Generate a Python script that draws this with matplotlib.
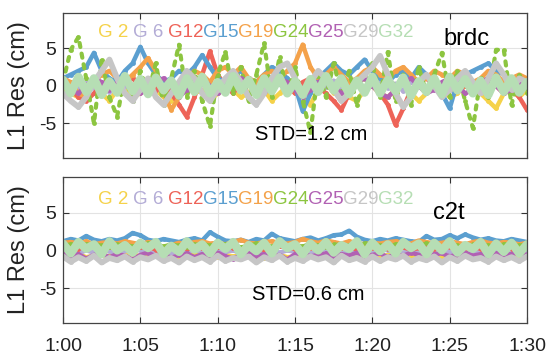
import numpy as np
import matplotlib
matplotlib.use("Agg")
import matplotlib.pyplot as plt

plt.rcParams['font.family'] = ['Liberation Sans', 'DejaVu Sans']

sats = ['G 2', 'G 6', 'G12', 'G15', 'G19', 'G24', 'G25', 'G29', 'G32']
colors = ['#f5d24a', '#b3acd6', '#ee6358', '#5b9fd0', '#f4a24a', '#8cc540', '#b161b3', '#c6c6c6', '#b6deb4']
xtick_labels = ['1:00', '1:05', '1:10', '1:15', '1:20', '1:25', '1:30']
minutes_start, minutes_end = 0, 30

# ---- brdc residuals (cm), sampled every 30 s ----
brdc_G02 = [-0.5,-1.0,-1.5,-0.5,0.5,-1.0,-2.0,-0.5,0.0,-1.5,-1.0,0.5,-0.5,-1.5,-2.0,-0.5,0.5,-1.0,-0.5,-2.0,-1.0,0.0,-0.5,-1.5,-1.0,0.5,-0.5,-2.0,-1.0,0.0,-0.5,-1.5,-2.5,-0.5,0.5,-1.0,-0.5,-1.5,-2.0,-0.5,0.0,-1.0,-1.5,-0.5,0.5,-1.0,-2.0,-1.0,0.0,-0.5,-1.5,-1.0,0.0,-0.5,-1.0,-2.0,-3.0,-1.0,-0.5,-1.5,-0.5]
brdc_G06 = [0.0,0.5,-0.5,0.8,-0.3,0.2,-0.8,0.5,0.0,-0.5,1.0,0.3,-0.5,0.0,0.8,-0.3,0.5,-0.8,0.2,0.6,-0.4,0.0,0.9,-0.6,0.3,0.0,-0.7,0.5,0.2,-0.3,0.8,0.0,-0.5,0.4,-0.2,0.7,-0.6,0.1,0.5,-0.4,0.0,0.8,-0.3,0.3,-0.7,0.5,0.0,-0.4,0.6,0.2,-0.5,0.0,0.7,-0.3,0.4,-0.6,0.1,0.5,-0.2,0.3,0.0]
brdc_G12 = [0.5,-0.5,-1.5,-2.0,-1.0,0.0,0.5,-0.5,0.5,1.0,0.0,-1.0,-0.5,0.5,-1.0,-2.5,-4.1,-1.5,1.5,4.6,1.5,0.0,-1.0,0.5,1.0,0.0,-0.5,0.5,1.0,0.0,-1.0,0.5,1.0,0.0,-1.0,-2.0,-3.2,-1.0,0.5,1.0,0.0,-1.0,-2.5,-5.2,-3.0,-0.5,0.5,1.0,0.0,-1.0,0.5,1.0,0.0,-0.5,0.5,1.0,0.0,-1.0,-0.5,-1.5,-3.2]
brdc_G15 = [1.0,1.5,2.0,2.5,4.4,2.0,1.0,0.5,2.0,3.0,5.2,3.0,1.5,0.5,1.0,2.0,1.5,2.5,4.1,2.5,1.0,0.5,1.5,2.0,1.0,0.5,1.5,2.5,2.0,1.0,0.0,-3.4,-1.0,1.0,2.0,3.0,2.0,1.5,2.5,3.5,2.0,1.0,0.5,1.5,2.0,1.0,2.5,1.5,0.5,-1.0,-3.0,0.5,1.5,2.0,2.5,3.0,2.0,1.5,1.0,0.5,1.0]
brdc_G19 = [1.0,0.5,-1.0,-1.5,0.5,1.5,2.0,1.0,0.5,1.5,2.5,3.7,2.0,-1.0,-3.2,-1.5,1.0,2.0,1.5,0.5,2.0,2.5,1.5,2.5,1.0,0.5,1.5,2.0,1.0,2.0,3.0,5.5,2.5,1.0,1.5,2.5,1.5,0.5,1.0,2.0,2.5,1.5,1.0,2.0,2.5,1.5,0.5,1.0,2.0,1.5,1.0,2.0,1.5,0.5,1.0,2.0,1.5,0.5,1.0,1.5,1.0]
brdc_G24 = [0.5,4.8,6.5,1.0,-5.0,3.5,-1.5,-4.1,1.5,-2.0,2.0,-1.0,3.0,-2.5,1.0,5.5,-1.5,2.0,-2.0,-5.4,1.5,4.5,-1.0,2.5,-2.0,1.5,5.7,-1.5,3.8,-1.0,2.5,-2.0,-6.2,2.0,-1.5,3.0,-1.0,2.0,-2.5,1.0,3.0,-1.5,4.5,-2.0,1.5,-2.5,2.5,-1.0,1.5,4.4,-1.5,2.0,-2.0,-5.6,1.0,-1.5,4.8,4.8,-2.5,1.5,-1.0]
brdc_G25 = [0.5,-0.5,-1.0,0.0,1.0,0.5,-0.5,0.5,1.0,0.0,-1.0,-0.5,0.5,1.0,0.0,-1.5,-0.5,0.5,1.0,0.0,-1.0,-0.5,0.5,1.0,0.5,-0.5,-1.0,0.0,1.0,0.5,-0.5,-1.5,-0.5,0.5,1.0,0.0,-1.0,-0.5,0.5,1.0,0.0,-1.0,-1.5,-0.5,0.5,1.0,0.0,-1.0,-0.5,0.5,1.0,0.0,-1.0,-0.5,0.5,1.0,0.0,-1.0,-0.5,0.5,0.0]
brdc_G29 = [-1.0,-2.0,-2.8,-1.5,0.5,2.0,3.5,1.0,-1.0,-2.0,-0.5,1.0,-1.5,-2.5,-1.0,0.5,2.0,1.0,-1.0,-2.0,-0.5,1.0,2.0,0.5,-1.5,-2.5,-1.0,1.0,2.5,3.0,1.0,-1.0,0.5,2.0,1.0,-0.5,-2.0,-1.0,0.5,1.5,2.5,4.0,1.5,-1.0,-2.8,-1.5,0.5,1.5,0.0,-1.5,-0.5,1.0,2.0,0.5,-1.0,1.0,3.0,1.5,-0.5,1.0,0.5]
brdc_G32 = [0.8,-1.0,1.2,-0.8,1.0,-1.2,0.6,-0.9,1.3,-0.7,0.9,-1.1,1.1,-0.6,0.7,-1.3,1.0,-0.8,1.2,-1.0,0.5,-0.9,1.3,-0.6,0.8,-1.2,1.0,-0.7,1.1,-1.0,0.6,-1.2,0.9,-0.8,1.3,-0.6,1.0,-1.1,0.7,-0.9,1.2,-1.0,0.8,-0.7,1.1,-1.3,0.6,-0.8,1.0,-1.1,1.2,-0.6,0.9,-1.0,0.7,-1.2,1.1,-0.8,1.0,-0.9,0.5]

# ---- c2t residuals (cm), sampled every 30 s ----
c2t_G02 = [-0.6,-0.8,-0.5,-0.9,-0.7,-0.6,-0.8,-1.0,-0.7,-0.5,-0.8,-0.9,-0.6,-0.7,-0.8,-1.0,-0.6,-0.5,-0.8,-0.7,-0.9,-0.6,-0.8,-0.7,-0.5,-0.8,-1.0,-0.7,-0.6,-0.9,-0.8,-0.6,-0.7,-0.9,-0.5,-0.8,-0.7,-1.0,-0.6,-0.8,-0.7,-0.9,-0.6,-0.5,-0.8,-0.7,-0.9,-0.6,-0.8,-1.0,-0.7,-0.6,-0.8,-0.5,-0.7,-0.9,-0.6,-0.8,-0.7,-0.6,-0.8]
c2t_G06 = [-0.2,0.1,-0.4,0.0,-0.3,0.2,-0.1,-0.5,0.0,-0.2,0.1,-0.3,-0.1,0.2,-0.4,0.0,-0.2,0.1,-0.3,-0.1,0.2,-0.2,0.0,-0.4,0.1,-0.2,-0.1,0.2,-0.3,0.0,-0.2,0.1,-0.4,-0.1,0.2,-0.2,0.0,-0.3,0.1,-0.1,-0.4,0.2,0.0,-0.2,-0.3,0.1,-0.1,0.0,-0.3,0.2,-0.2,-0.1,0.1,-0.4,0.0,-0.2,0.1,-0.3,-0.1,0.0,-0.2]
c2t_G12 = [0.3,0.5,0.2,0.6,0.4,0.1,0.5,0.3,0.6,0.2,0.4,0.5,0.1,0.3,0.6,0.4,0.2,0.5,0.3,0.1,0.4,0.6,0.3,0.2,0.5,0.4,0.1,0.3,0.6,0.4,0.2,0.5,0.3,0.4,0.6,0.2,0.3,0.5,0.1,0.4,0.3,0.6,0.2,0.5,0.4,0.1,0.3,0.5,0.2,0.6,0.4,0.3,0.1,0.5,0.2,0.4,0.6,0.3,0.2,0.5,0.4]
c2t_G15 = [1.2,1.5,1.3,1.9,1.4,1.2,1.5,1.3,1.6,2.3,2.0,1.4,1.2,1.5,1.3,1.1,1.4,1.6,1.3,2.4,1.8,1.3,1.2,1.4,1.1,1.5,1.3,2.2,1.6,1.4,1.2,1.5,1.7,1.3,1.6,2.0,2.1,2.6,1.8,1.4,1.2,1.5,1.3,1.6,1.4,1.2,1.1,1.9,1.4,1.5,2.0,1.6,2.1,1.7,1.4,1.6,1.3,1.2,1.5,1.3,1.1]
c2t_G19 = [1.0,1.1,0.9,1.2,0.8,1.0,1.1,0.9,1.2,1.0,0.8,1.1,0.9,0.4,0.7,1.0,0.8,1.1,1.2,0.9,1.0,0.8,1.1,1.4,1.0,0.9,1.1,1.2,1.0,0.9,1.1,1.5,1.2,1.0,1.3,1.1,0.9,1.2,1.0,0.8,1.0,0.9,1.1,1.2,1.0,0.9,1.3,1.1,0.9,1.0,1.2,1.0,0.8,1.1,1.3,1.0,0.9,1.1,1.0,0.8,1.0]
c2t_G24 = [0.7,0.9,0.6,0.8,1.0,0.7,0.5,0.8,0.9,0.6,0.7,1.0,0.8,0.6,0.9,0.7,0.5,0.8,1.0,0.7,0.6,0.9,0.8,0.5,0.7,1.0,0.8,0.6,0.9,0.7,0.8,0.6,1.0,0.7,0.5,0.8,0.9,0.7,0.6,1.0,0.8,0.7,0.5,0.9,0.8,0.6,0.7,1.0,0.8,0.6,0.9,0.7,0.5,0.8,1.0,0.7,0.6,0.9,0.8,0.7,0.9]
c2t_G25 = [-0.3,-0.8,-0.5,-1.1,-0.6,-0.4,-0.9,-0.5,-0.7,-1.2,-0.6,-0.3,-0.8,-0.5,-1.0,-0.6,-0.4,-0.9,-0.5,-0.7,-0.3,-0.8,-1.1,-0.6,-0.4,-0.7,-0.5,-0.9,-0.6,-1.2,-0.5,-0.3,-0.8,-0.6,-0.4,-1.0,-0.5,-0.7,-0.3,-0.8,-0.6,-0.4,-0.9,-0.5,-0.7,-0.3,-0.6,-1.0,-0.5,-0.4,-0.8,-0.6,-0.3,-0.7,-0.5,-0.9,-0.4,-0.6,-0.5,-0.3,-0.6]
c2t_G29 = [-0.8,-1.5,-0.9,-1.4,-0.7,-1.6,-1.0,-1.3,-0.8,-1.5,-0.9,-1.2,-0.7,-1.4,-1.0,-1.6,-0.8,-1.3,-0.9,-1.5,-0.7,-1.4,-1.0,-1.2,-0.8,-1.6,-0.9,-1.3,-0.7,-1.5,-1.0,-1.4,-0.8,-1.2,-0.9,-1.6,-0.7,-1.3,-1.0,-1.5,-0.8,-1.4,-0.9,-1.2,-0.7,-1.5,-1.0,-1.3,-0.8,-1.6,-0.9,-1.4,-0.7,-1.2,-1.0,-1.5,-0.8,-1.3,-0.9,-1.4,-0.8]
c2t_G32 = [0.9,-0.4,1.1,0.2,0.8,-0.5,1.2,0.0,0.7,-0.3,1.0,0.3,1.1,-0.5,0.6,-0.2,1.2,0.1,0.8,-0.4,1.0,0.2,1.1,-0.5,0.7,-0.1,1.0,-0.4,1.2,0.3,0.8,-0.5,0.9,0.0,1.1,-0.3,0.7,0.2,1.2,-0.5,1.0,-0.1,0.8,-0.4,1.1,0.3,0.9,-0.5,1.0,0.0,1.2,-0.3,0.7,0.2,1.1,-0.5,0.9,-0.2,1.0,-0.4,0.8]

brdc = [brdc_G02, brdc_G06, brdc_G12, brdc_G15, brdc_G19, brdc_G24, brdc_G25, brdc_G29, brdc_G32]
c2t = [c2t_G02, c2t_G06, c2t_G12, c2t_G15, c2t_G19, c2t_G24, c2t_G25, c2t_G29, c2t_G32]

W, H = 550, 361
fig = plt.figure(figsize=(W/100, H/100), dpi=100)
ax1 = fig.add_axes([63/W, 1-158/H, 464/W, 145/H])
ax2 = fig.add_axes([63/W, 1-323/H, 464/W, 146/H])

lws = [3.2, 3.2, 3.2, 3.2, 3.2, 2.0, 3.2, 4.2, 6.0]

def draw(ax, series, name, name_xy, std_text, std_xy, label_y):
    for k, (v, c) in enumerate(zip(series, colors)):
        t = np.linspace(minutes_start, minutes_end, len(v))
        if sats[k] == 'G24' and name == 'brdc':
            ax.plot(t, v, linestyle=(0, (1, 1.6)), color=c, lw=3.0,
                    marker='o', ms=3.5, mew=0, dash_capstyle='round')
        else:
            ax.plot(t, v, '-', color=c, lw=lws[k], marker='o', ms=3.5, mew=0,
                    solid_joinstyle='round', solid_capstyle='round')
    ax.set_xlim(minutes_start, minutes_end)
    ax.set_ylim(-9.6, 9.7)
    ax.set_xticks(np.arange(0, 31, 5))
    ax.set_yticks([-5, 0, 5])
    ax.set_yticklabels(['-5', '0', '5'])
    ax.grid(True, color='#e3e3e3', lw=0.8)
    ax.set_axisbelow(True)
    ax.tick_params(direction='in', top=True, right=True, length=4, width=0.8,
                   color='#333333', labelsize=14, labelcolor='#222222')
    ax.tick_params(axis='y', pad=5)
    ax.tick_params(axis='x', pad=11)
    for s in ax.spines.values():
        s.set_color('#444444')
        s.set_linewidth(0.9)
    ax.set_ylabel('L1 Res (cm)', fontsize=17, labelpad=6, color='#222222')
    for k, (lab, c) in enumerate(zip(sats, colors)):
        ax.text(2.26 * (k + 1), label_y, lab, color=c, fontsize=13.5,
                ha='left', va='center')
    ax.text(name_xy[0], name_xy[1], name, fontsize=17, ha='left', va='center')
    ax.text(std_xy[0], std_xy[1], std_text, fontsize=14.5, ha='left', va='center')

draw(ax1, brdc, 'brdc', (24.6, 6.3), 'STD=1.2 cm', (12.4, -6.5), 7.1)
draw(ax2, c2t, 'c2t', (23.9, 4.9), 'STD=0.6 cm', (12.2, -5.8), 6.7)
ax1.set_xticklabels([])
ax2.set_xticklabels(xtick_labels)

fig.savefig('out.png', dpi=100)
